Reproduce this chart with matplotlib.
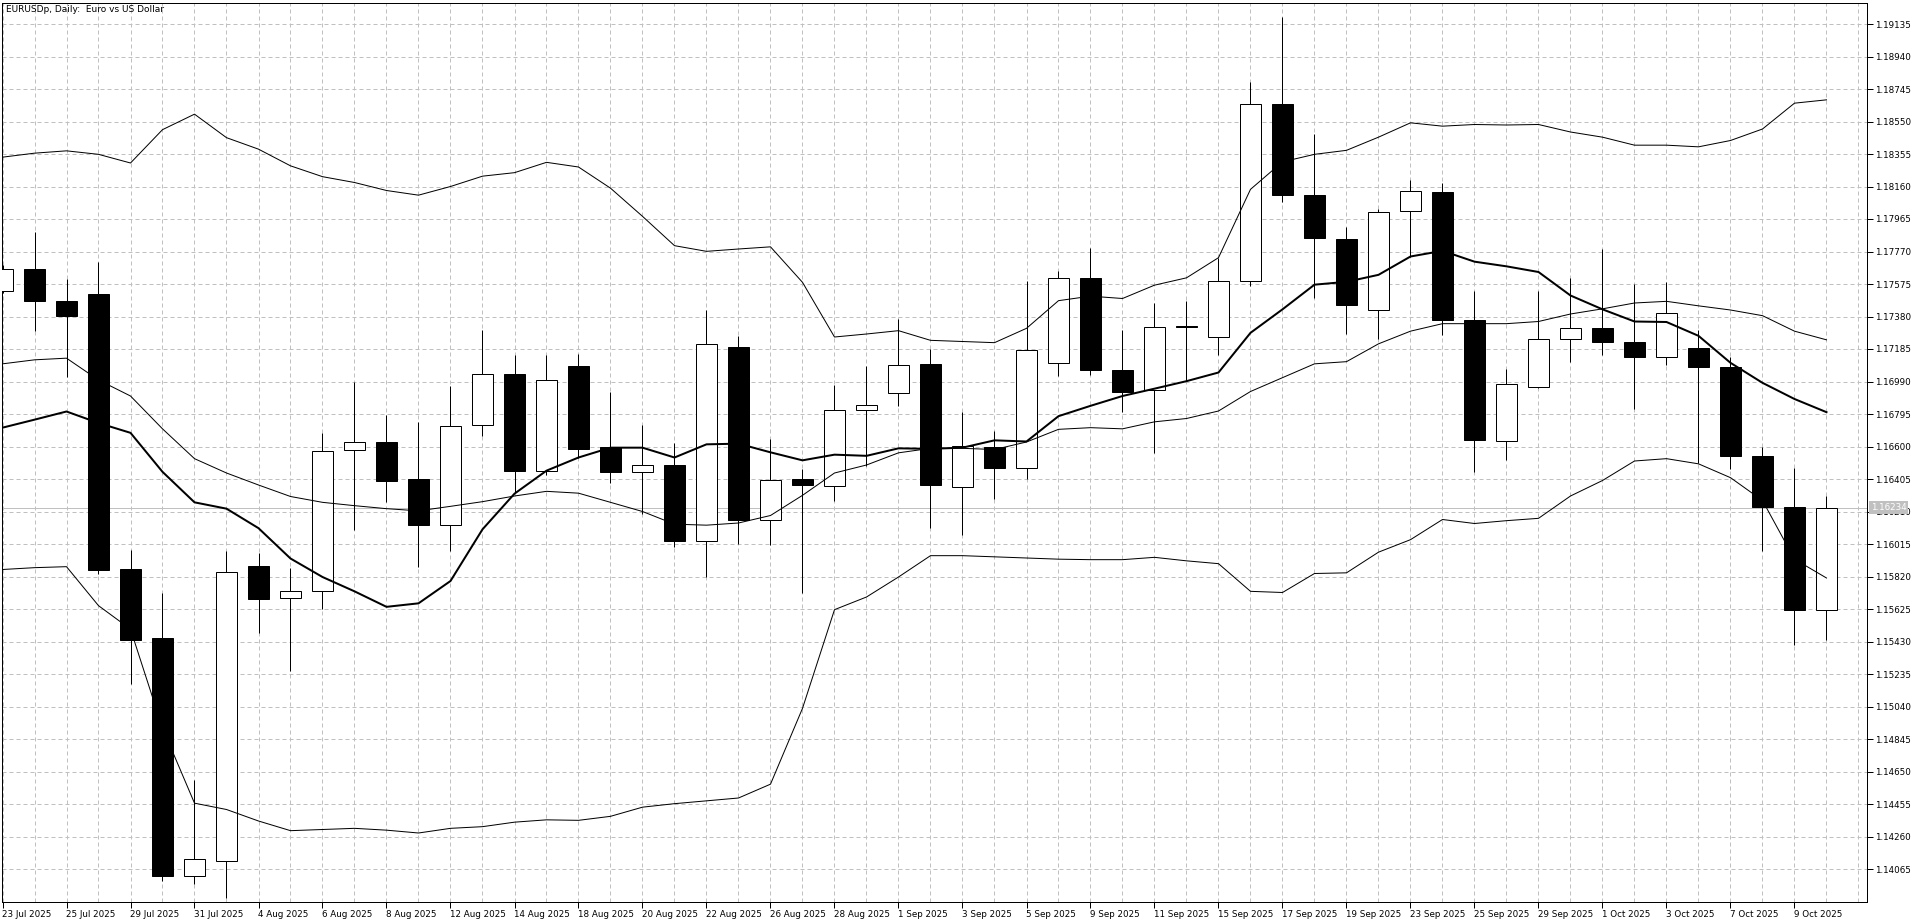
import matplotlib
matplotlib.use("Agg")
import matplotlib.pyplot as plt
import matplotlib.transforms as mtransforms
import numpy as np
import pandas as pd

# EURUSD daily bars, 23 Jul 2025 .. 10 Oct 2025
dates = pd.bdate_range("2025-07-23", "2025-10-10")

opens = [1.17533, 1.17664, 1.17471, 1.17516, 1.15866, 1.15449, 1.14026, 1.14116, 1.15886, 1.15690,
         1.15731, 1.16579, 1.16627, 1.16403, 1.16131, 1.16727, 1.17037, 1.16455, 1.17082, 1.16596,
         1.16448, 1.16489, 1.16034, 1.17199, 1.16162, 1.16403, 1.16362, 1.16820, 1.16920, 1.17096,
         1.16355, 1.16599, 1.16469, 1.17099, 1.17612, 1.17061, 1.16937, 1.17323, 1.17257, 1.17592,
         1.18653, 1.18112, 1.17843, 1.17419, 1.18012, 1.18129, 1.17361, 1.16634, 1.16958, 1.17247,
         1.17309, 1.17230, 1.17140, 1.17192, 1.17078, 1.16544, 1.16238, 1.15621]
highs = [1.17690, 1.17888, 1.17605, 1.17705, 1.15979, 1.15724, 1.14601, 1.15973, 1.15959, 1.15873,
         1.16679, 1.16985, 1.16789, 1.16748, 1.16961, 1.17299, 1.17147, 1.17147, 1.17158, 1.16927,
         1.16727, 1.16620, 1.17419, 1.17264, 1.16648, 1.16465, 1.16972, 1.17082, 1.17368, 1.17185,
         1.16810, 1.16696, 1.17592, 1.17654, 1.17791, 1.17299, 1.17461, 1.17471, 1.17733, 1.18787,
         1.19180, 1.18477, 1.17919, 1.18026, 1.18198, 1.18184, 1.17533, 1.17068, 1.17533, 1.17612,
         1.17785, 1.17578, 1.17585, 1.17299, 1.17137, 1.16599, 1.16472, 1.16303]
lows = [1.17520, 1.17295, 1.17016, 1.15835, 1.15173, 1.13995, 1.13978, 1.13892, 1.15483, 1.15256,
        1.15628, 1.16097, 1.16269, 1.15879, 1.15976, 1.16665, 1.16320, 1.16431, 1.16534, 1.16379,
        1.16196, 1.16000, 1.15817, 1.16014, 1.16007, 1.15724, 1.16276, 1.16482, 1.16844, 1.16114,
        1.16069, 1.16286, 1.16407, 1.17023, 1.17027, 1.16806, 1.16562, 1.16996, 1.17151, 1.17561,
        1.18067, 1.17492, 1.17275, 1.17247, 1.17740, 1.17271, 1.16448, 1.16517, 1.16950, 1.17109,
        1.17147, 1.16827, 1.17092, 1.16500, 1.16465, 1.15972, 1.15408, 1.15442]
closes = [1.17664, 1.17475, 1.17385, 1.15862, 1.15442, 1.14026, 1.14126, 1.15845, 1.15687, 1.15731,
          1.16575, 1.16627, 1.16396, 1.16131, 1.16723, 1.17037, 1.16455, 1.16996, 1.16586, 1.16448,
          1.16489, 1.16034, 1.17213, 1.16162, 1.16400, 1.16369, 1.16817, 1.16851, 1.17092, 1.16372,
          1.16603, 1.16472, 1.17178, 1.17612, 1.17061, 1.16930, 1.17320, 1.17318, 1.17595, 1.18653,
          1.18112, 1.17850, 1.17447, 1.18008, 1.18136, 1.17361, 1.16641, 1.16978, 1.17247, 1.17309,
          1.17230, 1.17140, 1.17402, 1.17078, 1.16544, 1.16238, 1.15621, 1.16234]

# Bollinger bands (thin) and moving average (thick)
bb_upper = [1.18336, 1.18360, 1.18374, 1.18353, 1.18301, 1.18501, 1.18594, 1.18453, 1.18384, 1.18284,
            1.18219, 1.18184, 1.18136, 1.18108, 1.18160, 1.18222, 1.18243, 1.18305, 1.18277, 1.18150,
            1.17981, 1.17805, 1.17771, 1.17785, 1.17798, 1.17585, 1.17257, 1.17275, 1.17295, 1.17237,
            1.17230, 1.17223, 1.17309, 1.17475, 1.17502, 1.17488, 1.17568, 1.17612, 1.17733, 1.18143,
            1.18308, 1.18353, 1.18377, 1.18456, 1.18542, 1.18522, 1.18532, 1.18529, 1.18532, 1.18487,
            1.18456, 1.18408, 1.18408, 1.18398, 1.18436, 1.18505, 1.18660, 1.18680]
bb_middle = [1.17096, 1.17120, 1.17130, 1.16999, 1.16903, 1.16706, 1.16527, 1.16441, 1.16369, 1.16300,
             1.16265, 1.16245, 1.16227, 1.16214, 1.16241, 1.16269, 1.16303, 1.16331, 1.16320, 1.16265,
             1.16210, 1.16134, 1.16128, 1.16141, 1.16186, 1.16307, 1.16441, 1.16489, 1.16562, 1.16589,
             1.16589, 1.16582, 1.16627, 1.16703, 1.16713, 1.16706, 1.16748, 1.16768, 1.16813, 1.16930,
             1.17013, 1.17096, 1.17109, 1.17216, 1.17292, 1.17337, 1.17337, 1.17337, 1.17350, 1.17395,
             1.17426, 1.17461, 1.17471, 1.17444, 1.17419, 1.17385, 1.17292, 1.17240]
bb_lower = [1.15862, 1.15873, 1.15879, 1.15645, 1.15504, 1.14911, 1.14460, 1.14422, 1.14353, 1.14295,
            1.14302, 1.14309, 1.14298, 1.14281, 1.14309, 1.14319, 1.14346, 1.14360, 1.14357, 1.14381,
            1.14436, 1.14457, 1.14474, 1.14491, 1.14574, 1.15029, 1.15621, 1.15697, 1.15817, 1.15945,
            1.15945, 1.15938, 1.15931, 1.15924, 1.15921, 1.15921, 1.15935, 1.15914, 1.15897, 1.15731,
            1.15724, 1.15838, 1.15842, 1.15966, 1.16041, 1.16162, 1.16138, 1.16155, 1.16169, 1.16303,
            1.16396, 1.16513, 1.16527, 1.16496, 1.16413, 1.16276, 1.15924, 1.15811]
ma_fast = [1.16713, 1.16761, 1.16810, 1.16741, 1.16682, 1.16448, 1.16265, 1.16227, 1.16110, 1.15928,
           1.15817, 1.15731, 1.15638, 1.15659, 1.15793, 1.16103, 1.16317, 1.16455, 1.16534, 1.16593,
           1.16593, 1.16534, 1.16613, 1.16617, 1.16565, 1.16517, 1.16551, 1.16544, 1.16589, 1.16586,
           1.16593, 1.16637, 1.16630, 1.16782, 1.16844, 1.16903, 1.16947, 1.16992, 1.17044, 1.17282,
           1.17423, 1.17571, 1.17588, 1.17630, 1.17740, 1.17774, 1.17709, 1.17681, 1.17647, 1.17506,
           1.17423, 1.17350, 1.17347, 1.17264, 1.17102, 1.16982, 1.16885, 1.16806]

last_price = 1.16234
price_ticks = np.round(1.14065 + 0.00195 * np.arange(27), 5)

W, H = 1920, 923
px = 72 / 100  # one pixel in points
grid_col = "#c0c0c0"

plt.rcParams["font.family"] = ["DejaVu Sans"]

fig = plt.figure(figsize=(W / 100, H / 100), dpi=100)
fig.patch.set_facecolor("white")
ax = fig.add_axes([2.3 / W, 21 / H, (1867 - 2.3) / W, (902 - 3) / H])

x = np.arange(len(opens))
o = np.array(opens)
c = np.array(closes)
hi = np.array(highs)
lo = np.array(lows)
up = c >= o
body_lo = np.minimum(o, c)
body_h = np.maximum(np.abs(c - o), 0.00002)

# current price line
ax.axhline(last_price, color=grid_col, lw=px, zorder=2)

# candles
ax.vlines(x, lo, hi, color="black", lw=px, zorder=3)
ax.bar(x[up], body_h[up], bottom=body_lo[up], width=0.68, facecolor="white",
       edgecolor="black", lw=px, zorder=4)
ax.bar(x[~up], body_h[~up], bottom=body_lo[~up], width=0.68, facecolor="black",
       edgecolor="black", lw=px, zorder=4)

# indicators on top
for band in (bb_upper, bb_middle, bb_lower):
    ax.plot(x, band, color="black", lw=px, zorder=5)
ax.plot(x, ma_fast, color="black", lw=2 * px, zorder=6)

ax.set_xlim((2.3 - 2.5) / 32, (1867 - 2.5) / 32)
ax.set_ylim(1.13867, 1.19261)

# x axis: every bar gets a grid line, every second bar a label
ax.set_xticks(x[::2])
ax.set_xticklabels([f"{d.day} {d.strftime('%b %Y')}" for d in dates[::2]])
for lab in ax.get_xticklabels():
    lab.set_horizontalalignment("left")
ax.set_xticks(np.arange(0, 59), minor=True)

ax.yaxis.tick_right()
ax.set_yticks(price_ticks)
ax.set_yticklabels([f"{v:.5f}" for v in price_ticks])

ax.tick_params(axis="both", which="major", direction="out", length=4, width=px,
               labelsize=6.3, pad=1.5, colors="black")
ax.tick_params(axis="x", which="minor", length=0)
ax.tick_params(axis="x", which="major", pad=2)

ax.grid(True, which="both", axis="x", color=grid_col, lw=px, linestyle=(0, (4, 3)))
ax.grid(True, which="major", axis="y", color=grid_col, lw=px, linestyle=(0, (4, 3)))
ax.set_axisbelow(True)

for sp in ax.spines.values():
    sp.set_color("black")
    sp.set_linewidth(px)

# chart caption
ax.text(6 / W, 1 - 10 / H, "EURUSDp, Daily:  Euro vs US Dollar", transform=fig.transFigure,
        fontsize=6.5, ha="left", va="center", color="black")

# bid label on the price scale
trans = mtransforms.blended_transform_factory(ax.transAxes, ax.transData)
ax.text(1.0021, last_price, f"{last_price:.5f}", transform=trans, fontsize=6.3,
        color="white", ha="left", va="center", clip_on=False, zorder=10,
        bbox=dict(facecolor=grid_col, edgecolor="none", pad=1.2))

fig.savefig("out.png", dpi=100, facecolor="white")
